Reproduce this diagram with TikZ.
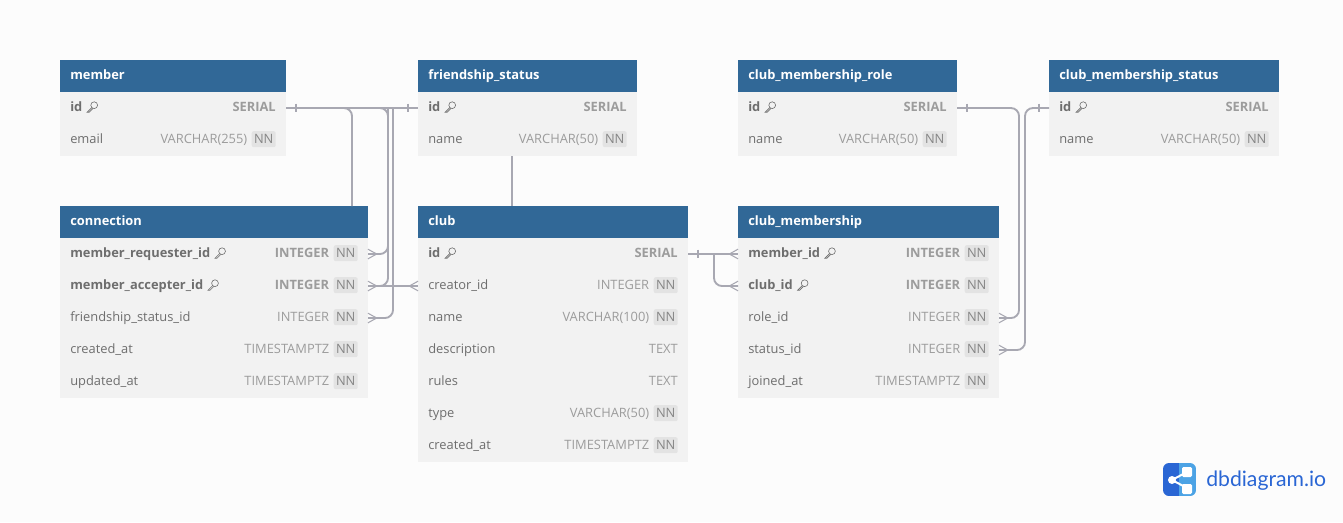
\documentclass[tikz,border=0pt]{standalone}
\usepackage{fontspec}
\setmainfont{Open Sans}
\newfontfamily\logofont{Lato}
\usetikzlibrary{positioning}
\definecolor{pagebg}{HTML}{FCFCFC}
\definecolor{headblue}{HTML}{316897}
\definecolor{rowgrey}{HTML}{F2F2F2}
\definecolor{chipgrey}{HTML}{E3E3E3}
\definecolor{fieldgrey}{HTML}{6E6E6E}
\definecolor{typegrey}{HTML}{9C9C9C}
\definecolor{linkgrey}{HTML}{A8A8B2}
\definecolor{logoblue}{HTML}{2A66D4}
\tikzset{
    headbox/.style={fill=headblue, anchor=north west, minimum height=24pt, inner sep=0pt, outer sep=0pt},
    headtext/.style={anchor=base west, inner sep=0pt, text=white, font=\fontsize{9.65}{12}\selectfont\bfseries},
    rowbox/.style={fill=rowgrey, minimum height=24pt, inner sep=0pt, outer sep=0pt},
    fieldtext/.style={anchor=base west, inner sep=0pt, text=fieldgrey, font=\fontsize{9.65}{12}\selectfont},
    typetext/.style={anchor=base east, inner sep=0pt, text=typegrey, font=\fontsize{9.65}{12}\selectfont},
    nnchip/.style={fill=chipgrey, rounded corners=1.5pt, minimum width=18pt, minimum height=12pt, inner sep=0pt, anchor=east, text=typegrey!85!black, font=\fontsize{9.65}{12}\selectfont},
    link/.style={draw=linkgrey, line width=1.4pt, rounded corners=6pt},
    tick/.style={draw=linkgrey, line width=0.8pt},
    keyicon/.pic={
        \draw[draw=fieldgrey, line width=0.45pt] (7.6,-6.4) circle [radius=3.4];
        \draw[draw=fieldgrey, line width=0.45pt] (5.2,-4) -- (0.6,0.6) -- (2.6,0.6) -- (6.4,-3.2);
    }
}
% table header
\newcommand{\dbhead}[5]{
    \node[headbox, minimum width=#4*0.75pt] (#1) at (#2,#3) {};
    \node[headtext] (#1-title) at ([xshift=7.5pt,yshift=-2.7pt]#1.west) {#5};
}
% row: [font] name, above, width, field, type
\newcommand{\dbrow}[5][]{
    \node[rowbox, minimum width=#4*0.75pt, below=0pt of #3] (#2) {};
    \node[fieldtext] (#2-field) at ([xshift=7.5pt,yshift=-2.7pt]#2.west) {#1\dbfield};
    \node[typetext] (#2-type) at ([xshift=-7.5pt,yshift=-2.7pt]#2.east) {#1#5};
}
% row with NN chip
\newcommand{\dbrownn}[5][]{
    \node[rowbox, minimum width=#4*0.75pt, below=0pt of #3] (#2) {};
    \node[fieldtext] (#2-field) at ([xshift=7.5pt,yshift=-2.7pt]#2.west) {#1\dbfield};
    \node[nnchip] (#2-nn) at ([xshift=-7.5pt,yshift=0.6pt]#2.east) {NN};
    \node[typetext] (#2-type) at ([xshift=-3pt,yshift=-2.7pt]#2-nn.west |- #2.west) {#1#5};
}
% crow foot at the east or west side of a row
\newcommand{\crowfoot}[2]{
    \draw[tick] ([xshift=#2*6.5pt]#1) -- ([yshift=3.6pt]#1);
    \draw[tick] ([xshift=#2*6.5pt]#1) -- ([yshift=-3.6pt]#1);
    \draw[tick] ([xshift=#2*6.5pt]#1) -- (#1);
}
% one-side bar
\newcommand{\onebar}[2]{
    \draw[tick] ([xshift=#2*7.5pt,yshift=3.2pt]#1) -- ([xshift=#2*7.5pt,yshift=-3.2pt]#1);
}
\begin{document}
\begin{tikzpicture}[x=0.75pt,y=-0.75pt]
    \fill[pagebg] (0,0) rectangle (1343,522);
    \useasboundingbox (0,0) rectangle (1343,522);

    % member
    \dbhead{member}{60}{60}{226}{member}
    \def\dbfield{id}\dbrow[\bfseries]{member-id}{member}{226}{SERIAL}
    \pic at ([xshift=3pt]member-id-field.base east) {keyicon};
    \def\dbfield{email}\dbrownn{member-email}{member-id}{226}{VARCHAR(255)}

    % friendship_status
    \dbhead{status}{418}{60}{219}{friendship\_status}
    \def\dbfield{id}\dbrow[\bfseries]{status-id}{status}{219}{SERIAL}
    \pic at ([xshift=3pt]status-id-field.base east) {keyicon};
    \def\dbfield{name}\dbrownn{status-name}{status-id}{219}{VARCHAR(50)}

    % club_membership_role
    \dbhead{role}{738}{60}{219}{club\_membership\_role}
    \def\dbfield{id}\dbrow[\bfseries]{role-id}{role}{219}{SERIAL}
    \pic at ([xshift=3pt]role-id-field.base east) {keyicon};
    \def\dbfield{name}\dbrownn{role-name}{role-id}{219}{VARCHAR(50)}

    % club_membership_status
    \dbhead{mstatus}{1049}{60}{230}{club\_membership\_status}
    \def\dbfield{id}\dbrow[\bfseries]{mstatus-id}{mstatus}{230}{SERIAL}
    \pic at ([xshift=3pt]mstatus-id-field.base east) {keyicon};
    \def\dbfield{name}\dbrownn{mstatus-name}{mstatus-id}{230}{VARCHAR(50)}

    % connection
    \dbhead{conn}{60}{206}{308}{connection}
    \def\dbfield{member\_requester\_id}\dbrownn[\bfseries]{conn-req}{conn}{308}{INTEGER}
    \pic at ([xshift=3pt]conn-req-field.base east) {keyicon};
    \def\dbfield{member\_accepter\_id}\dbrownn[\bfseries]{conn-acc}{conn-req}{308}{INTEGER}
    \pic at ([xshift=3pt]conn-acc-field.base east) {keyicon};
    \def\dbfield{friendship\_status\_id}\dbrownn{conn-fs}{conn-acc}{308}{INTEGER}
    \def\dbfield{created\_at}\dbrownn{conn-created}{conn-fs}{308}{TIMESTAMPTZ}
    \def\dbfield{updated\_at}\dbrownn{conn-updated}{conn-created}{308}{TIMESTAMPTZ}

    % club
    \dbhead{club}{418}{206}{270}{club}
    \def\dbfield{id}\dbrow[\bfseries]{club-id}{club}{270}{SERIAL}
    \pic at ([xshift=3pt]club-id-field.base east) {keyicon};
    \def\dbfield{creator\_id}\dbrownn{club-creator}{club-id}{270}{INTEGER}
    \def\dbfield{name}\dbrownn{club-name}{club-creator}{270}{VARCHAR(100)}
    \def\dbfield{description}\dbrow{club-desc}{club-name}{270}{TEXT}
    \def\dbfield{rules}\dbrow{club-rules}{club-desc}{270}{TEXT}
    \def\dbfield{type}\dbrownn{club-type}{club-rules}{270}{VARCHAR(50)}
    \def\dbfield{created\_at}\dbrownn{club-created}{club-type}{270}{TIMESTAMPTZ}

    % club_membership
    \dbhead{cm}{738}{206}{261}{club\_membership}
    \def\dbfield{member\_id}\dbrownn[\bfseries]{cm-member}{cm}{261}{INTEGER}
    \pic at ([xshift=3pt]cm-member-field.base east) {keyicon};
    \def\dbfield{club\_id}\dbrownn[\bfseries]{cm-club}{cm-member}{261}{INTEGER}
    \pic at ([xshift=3pt]cm-club-field.base east) {keyicon};
    \def\dbfield{role\_id}\dbrownn{cm-role}{cm-club}{261}{INTEGER}
    \def\dbfield{status\_id}\dbrownn{cm-status}{cm-role}{261}{INTEGER}
    \def\dbfield{joined\_at}\dbrownn{cm-joined}{cm-status}{261}{TIMESTAMPTZ}

    % bus coordinates
    \coordinate (busconn) at (352,108);
    \coordinate (busmember) at (388,108);
    \coordinate (busstatus) at (393,108);
    \coordinate (busclub) at (714,254);
    \coordinate (busrole) at (1019,108);
    \coordinate (busmstatus) at (1025,108);
    \coordinate (statusout) at (512,156);

    % connectors
    \draw[link] (member-id.east) -- (status-id.west);
    \draw[link] (busconn) ++(-10,0) -- (busconn) -- (busconn |- conn.north);
    \draw[link] (busmember) ++(-10,0) -- (busmember) -- (busmember |- conn-req.east) -- (conn-req.east);
    \draw[link] (busmember) -- (busmember |- conn-acc.east) -- (conn-acc.east);
    \draw[link] (conn-acc.east) -- (club-creator.west);
    \draw[link] (busstatus) -- (busstatus |- conn-fs.east) -- (conn-fs.east);
    \draw[link] (statusout) -- (statusout |- club.north);
    \draw[link] (club-id.east) -- (cm-member.west);
    \draw[link] (busclub) -- (busclub |- cm-club.west) -- (cm-club.west);
    \draw[link] (role-id.east) -- (busrole) -- (busrole |- cm-role.east) -- (cm-role.east);
    \draw[link] (mstatus-id.west) -- (busmstatus) -- (busmstatus |- cm-status.east) -- (cm-status.east);

    % ends
    \onebar{member-id.east}{1}
    \onebar{status-id.west}{-1}
    \onebar{club-id.east}{1}
    \onebar{role-id.east}{1}
    \onebar{mstatus-id.west}{-1}
    \crowfoot{conn-req.east}{1}
    \crowfoot{conn-acc.east}{1}
    \crowfoot{conn-fs.east}{1}
    \crowfoot{club-creator.west}{-1}
    \crowfoot{cm-member.west}{-1}
    \crowfoot{cm-club.west}{-1}
    \crowfoot{cm-role.east}{1}
    \crowfoot{cm-status.east}{1}

    % logo
    \begin{scope}
        \clip[rounded corners=4.5pt] (1163,463) rectangle (1196,496);
        \fill[logoblue] (1163,463) rectangle (1179,496);
        \fill[logoblue!75!cyan!80!white] (1179,463) rectangle (1196,496);
    \end{scope}
    \draw[white, line width=1.5pt] (1187,472) -- (1172,480) -- (1187,488);
    \fill[white] (1172,480) circle [radius=4];
    \fill[white, rounded corners=1pt] (1182,467) rectangle (1192,477);
    \fill[white, rounded corners=1pt] (1182,484) rectangle (1192,494);
    \node[anchor=base west, inner sep=0pt, text=logoblue, font=\logofont\fontsize{15.9}{18}\selectfont] (logotext) at (1206,486.5) {dbdiagram.io};
\end{tikzpicture}
\end{document}
